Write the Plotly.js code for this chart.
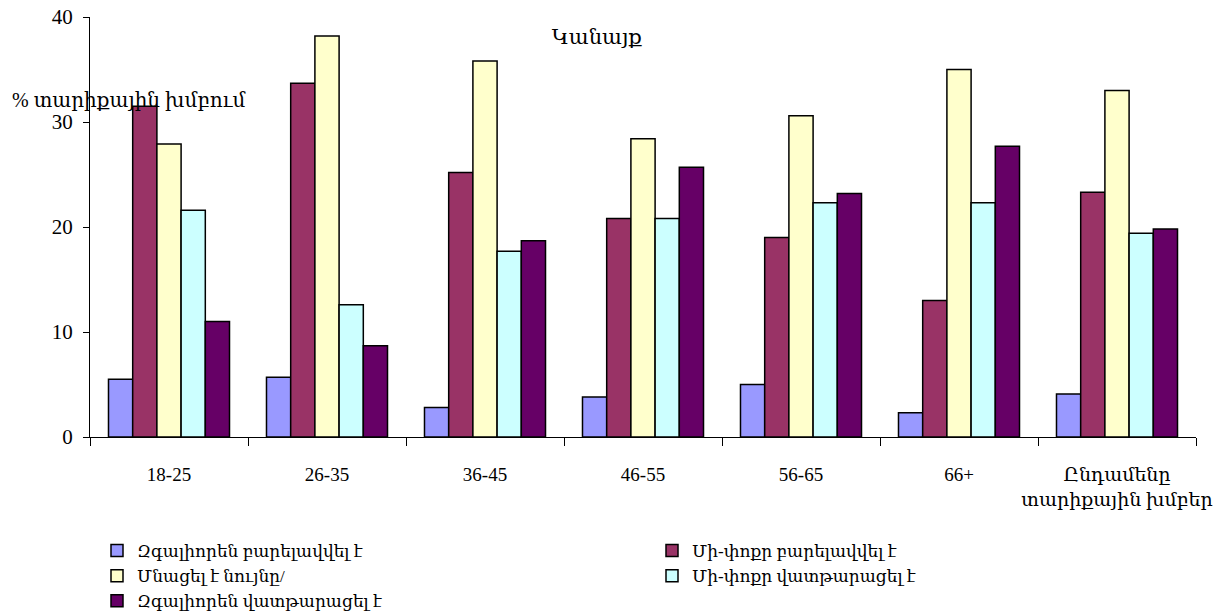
<!DOCTYPE html>
<html>
<head>
<meta charset="utf-8">
<script src="https://cdn.plot.ly/plotly-3.0.1.min.js"></script>
<style>html,body{margin:0;padding:0;background:#fff;}#chart{width:1218px;height:613px;}</style>
</head>
<body>
<div id="chart"></div>
<script>
const categories = ["18-25", "26-35", "36-45", "46-55", "56-65", "66+", "Ընդամենը<br>տարիքային խմբեր"];
const seriesNames = ["Զգալիորեն բարելավվել է", "Մի-փոքր բարելավվել է", "Մնացել է նույնը/", "Մի-փոքր վատթարացել է", "Զգալիորեն վատթարացել է"];
const greatlyImproved = [5.5, 5.7, 2.8, 3.8, 5.0, 2.3, 4.1];
const slightlyImproved = [31.5, 33.7, 25.2, 20.8, 19.0, 13.0, 23.3];
const stayedSame = [27.9, 38.2, 35.8, 28.4, 30.6, 35.0, 33.0];
const slightlyWorse = [21.6, 12.6, 17.7, 20.8, 22.3, 22.3, 19.4];
const greatlyWorse = [11.0, 8.7, 18.7, 25.7, 23.2, 27.7, 19.8];
const seriesValues = [greatlyImproved, slightlyImproved, stayedSame, slightlyWorse, greatlyWorse];
const colors = ["#9999FF", "#993366", "#FFFFCC", "#CCFFFF", "#660066"];
const yTicks = [0, 10, 20, 30, 40];

const FONT = "Liberation Serif, DejaVu Serif, serif";

const traces = seriesValues.map((vals, i) => ({
  type: "bar",
  name: seriesNames[i],
  x: categories,
  y: vals,
  marker: {color: colors[i], line: {color: "#000", width: 1.5}},
  hoverinfo: "none"
}));

const layout = {
  width: 1218, height: 613,
  margin: {l: 90, r: 22, t: 17, b: 176, autoexpand: false},
  paper_bgcolor: "#fff", plot_bgcolor: "#fff",
  font: {family: FONT, size: 19, color: "#000"},
  barmode: "group", bargap: 0.234, bargroupgap: 0,
  showlegend: true,
  title: {text: "Կանայք", font: {family: FONT, size: 21, color: "#000"}, x: 0.49, xanchor: "center", y: 1 - 37/613, yanchor: "middle", yref: "container"},
  xaxis: {
    type: "category", showline: true, linecolor: "#000", linewidth: 1, automargin: false,
    ticks: "outside", tickson: "boundaries", ticklen: 8, tickcolor: "#000", tickwidth: 1,
    showgrid: false, zeroline: false, ticklabelstandoff: 20, tickangle: 0,
    tickfont: {family: FONT, size: 19, color: "#000"}
  },
  yaxis: {
    range: [0, 40], tickvals: yTicks, showline: true, linecolor: "#000", linewidth: 1, automargin: false,
    ticks: "outside", ticklen: 6, tickcolor: "#000", tickwidth: 1,
    showgrid: false, zeroline: false, ticklabelstandoff: 6,
    tickfont: {family: FONT, size: 21, color: "#000"}
  },
  legend: {
    orientation: "h", xref: "container", yref: "container",
    x: 97 / 1218, xanchor: "left", y: 1 - 533 / 613, yanchor: "top",
    entrywidth: 510, entrywidthmode: "pixels", traceorder: "normal",
    font: {family: FONT, size: 17, color: "#000"}, bgcolor: "rgba(0,0,0,0)", itemclick: false
  },
  annotations: [{
    text: "% տարիքային խմբում", xref: "paper", yref: "paper",
    x: (10 - 90) / 1106, y: (437 - 100) / 420, xanchor: "left", yanchor: "middle",
    showarrow: false, font: {family: FONT, size: 20, color: "#000"}
  }]
};

Plotly.newPlot("chart", traces, layout, {displayModeBar: false, staticPlot: true});
</script>
</body>
</html>
